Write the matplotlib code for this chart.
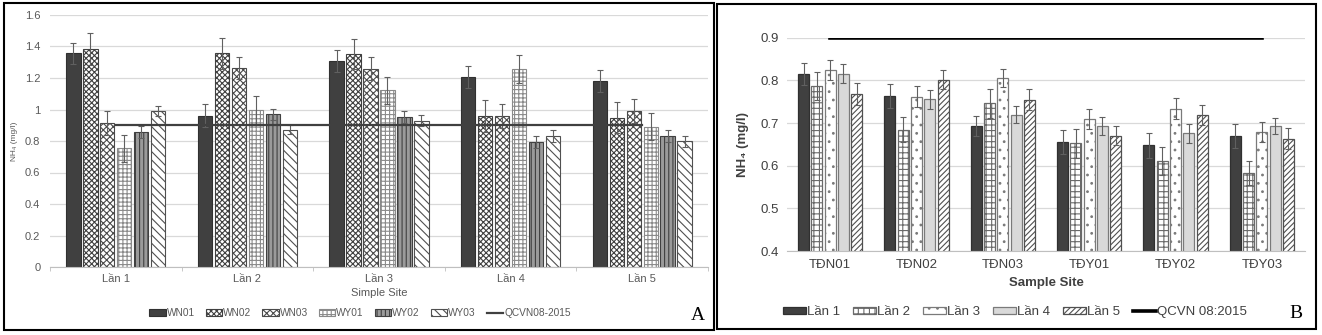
import matplotlib.pyplot as plt
from matplotlib.patches import Rectangle
import numpy as np

plt.rcParams['font.family'] = ['Liberation Sans', 'DejaVu Sans']
plt.rcParams['hatch.linewidth'] = 0.8

# ---- panel A data (NH4 mg/l by sampling round) ----
rounds_a = ['Lần 1', 'Lần 2', 'Lần 3', 'Lần 4', 'Lần 5']
sites_a = ['WN01', 'WN02', 'WN03', 'WY01', 'WY02', 'WY03']
wn01 = [1.357, 0.960, 1.308, 1.206, 1.179]
wn02 = [1.384, 1.357, 1.352, 0.960, 0.947]
wn03 = [0.914, 1.263, 1.259, 0.960, 0.992]
wy01 = [0.753, 0.996, 1.123, 1.259, 0.890]
wy02 = [0.858, 0.969, 0.952, 0.793, 0.831]
wy03 = [0.990, 0.873, 0.928, 0.831, 0.799]
wn01_err = [0.067, 0.072, 0.070, 0.068, 0.070]
wn02_err = [0.100, 0.099, 0.096, 0.102, 0.098]
wn03_err = [0.074, 0.072, 0.074, 0.076, 0.076]
wy01_err = [0.086, 0.089, 0.085, 0.089, 0.085]
wy02_err = [0.036, 0.034, 0.038, 0.036, 0.036]
wy03_err = [0.034, 0.028, 0.034, 0.036, 0.034]
qcvn_a = [0.9, 0.9, 0.9, 0.9, 0.9]

# ---- panel B data (NH4 mg/l by sample site) ----
sites_b = ['TĐN01', 'TĐN02', 'TĐN03', 'TĐY01', 'TĐY02', 'TĐY03']
rounds_b = ['Lần 1', 'Lần 2', 'Lần 3', 'Lần 4', 'Lần 5']
lan1 = [0.814, 0.764, 0.693, 0.655, 0.648, 0.670]
lan2 = [0.786, 0.684, 0.746, 0.652, 0.611, 0.583]
lan3 = [0.824, 0.762, 0.806, 0.709, 0.734, 0.679]
lan4 = [0.816, 0.756, 0.719, 0.693, 0.676, 0.693]
lan5 = [0.768, 0.802, 0.755, 0.670, 0.719, 0.663]
lan1_err = [0.026, 0.028, 0.024, 0.028, 0.029, 0.028]
lan2_err = [0.033, 0.029, 0.034, 0.033, 0.033, 0.029]
lan3_err = [0.024, 0.024, 0.021, 0.024, 0.024, 0.023]
lan4_err = [0.022, 0.022, 0.020, 0.021, 0.022, 0.019]
lan5_err = [0.025, 0.022, 0.024, 0.022, 0.023, 0.025]
qcvn_b = [0.9, 0.9, 0.9, 0.9, 0.9, 0.9]

W, H = 1322, 335
fig = plt.figure(figsize=(W / 100, H / 100), dpi=100)


def px_axes(left, top, right, bottom):
    return fig.add_axes([left / W, 1 - bottom / H, (right - left) / W, (bottom - top) / H])


def style_axes(ax, grid_color='#d9d9d9'):
    for s in ['top', 'right', 'left']:
        ax.spines[s].set_visible(False)
    ax.spines['bottom'].set_color('#bfbfbf')
    ax.yaxis.grid(True, color=grid_color, linewidth=0.9)
    ax.set_axisbelow(True)
    ax.tick_params(axis='y', length=0)
    ax.tick_params(axis='x', which='major', length=0)


def line_last(ax):
    # Excel lists the line series after the bars
    handles, labels = ax.get_legend_handles_labels()
    return handles[1:] + handles[:1], labels[1:] + labels[:1]


err_kw = dict(ecolor='#606060', elinewidth=0.8, capsize=2, capthick=0.8)

# ---------------- panel A ----------------
ax_a = px_axes(50, 15, 708, 267)
style_axes(ax_a)
vals_a = [wn01, wn02, wn03, wy01, wy02, wy03]
errs_a = [wn01_err, wn02_err, wn03_err, wy01_err, wy02_err, wy03_err]
styles_a = [
    dict(color='#404040', edgecolor='#303030', hatch=None),
    dict(color='white', edgecolor='#404040', hatch='xxxxxx'),
    dict(color='white', edgecolor='#4a4a4a', hatch='xxxxx'),
    dict(color='white', edgecolor='#8a8a8a', hatch='++++'),
    dict(color='#9a9a9a', edgecolor='#404040', hatch='||||'),
    dict(color='white', edgecolor='#505050', hatch='\\\\\\\\'),
]
x_a = np.arange(len(rounds_a))
slot_a, width_a = 0.129, 0.109
for j, (name, v, e, st) in enumerate(zip(sites_a, vals_a, errs_a, styles_a)):
    ax_a.bar(x_a + (j - 2.5) * slot_a, v, width_a, yerr=e, label=name,
             linewidth=0.8, error_kw=err_kw, **st)
ax_a.plot(x_a, qcvn_a, color='#404040', linewidth=1.6, label='QCVN08-2015', zorder=5)
ax_a.set_xlim(-0.5, len(rounds_a) - 0.5)
ax_a.set_ylim(0, 1.6)
ax_a.set_yticks(np.arange(0, 1.61, 0.2))
ax_a.set_yticklabels(['0', '0.2', '0.4', '0.6', '0.8', '1', '1.2', '1.4', '1.6'])
ax_a.set_xticks(x_a)
ax_a.set_xticklabels(rounds_a)
ax_a.set_xticks(np.arange(-0.5, len(rounds_a), 1.0), minor=True)
ax_a.tick_params(axis='x', which='minor', length=3, color='#bfbfbf')
ax_a.tick_params(axis='both', labelsize=8, labelcolor='#595959', pad=5)
ax_a.tick_params(axis='y', pad=7)
ax_a.set_xlabel('Simple Site', fontsize=8, color='#595959', labelpad=3)
ax_a.set_ylabel('NH₄ (mg/l)', fontsize=6, color='#595959', labelpad=5)
h, l = line_last(ax_a)
ax_a.legend(h, l, loc='center', bbox_to_anchor=(360 / W, 1 - 313 / H), bbox_transform=fig.transFigure,
            ncol=7, frameon=False, fontsize=7.3, handlelength=1.6, handleheight=0.6,
            handletextpad=0.1, columnspacing=1.1, labelcolor='#595959')

# ---------------- panel B ----------------
ax_b = px_axes(787, 37.7, 1305, 251)
style_axes(ax_b)
vals_b = [lan1, lan2, lan3, lan4, lan5]
errs_b = [lan1_err, lan2_err, lan3_err, lan4_err, lan5_err]
styles_b = [
    dict(color='#404040', edgecolor='#303030', hatch=None),
    dict(color='white', edgecolor='#6a6a6a', hatch='+++'),
    dict(color='white', edgecolor='#7a7a7a', hatch='..'),
    dict(color='#d9d9d9', edgecolor='#7a7a7a', hatch=None),
    dict(color='white', edgecolor='#505050', hatch='//////'),
]
x_b = np.arange(len(sites_b))
slot_b, width_b = 0.154, 0.127
for j, (name, v, e, st) in enumerate(zip(rounds_b, vals_b, errs_b, styles_b)):
    ax_b.bar(x_b + (j - 2) * slot_b, v, width_b, yerr=e, label=name,
             linewidth=0.9, error_kw=err_kw, **st)
ax_b.plot(x_b, qcvn_b, color='black', linewidth=2.6, label='QCVN 08:2015', zorder=5)
ax_b.set_xlim(-0.5, len(sites_b) - 0.5)
ax_b.set_ylim(0.4, 0.9)
ax_b.set_yticks(np.arange(0.4, 0.91, 0.1))
ax_b.yaxis.set_major_formatter(plt.FormatStrFormatter('%.1f'))
ax_b.set_xticks(x_b)
ax_b.set_xticklabels(sites_b)
ax_b.tick_params(axis='both', labelsize=9.5, labelcolor='#404040', pad=6)
ax_b.set_xlabel('Sample Site', fontsize=9.5, fontweight='bold', color='#404040', labelpad=4)
ax_b.set_ylabel('NH₄ (mg/l)', fontsize=9.5, fontweight='bold', color='#404040', labelpad=8)
h, l = line_last(ax_b)
ax_b.legend(h, l, loc='center', bbox_to_anchor=(1015 / W, 1 - 312 / H), bbox_transform=fig.transFigure,
            ncol=6, frameon=False, fontsize=9.5, handlelength=1.7, handleheight=0.5,
            handletextpad=0.1, columnspacing=1.0, labelcolor='#404040')

# panel frames and letters
fig.add_artist(Rectangle((4 / W, 1 - 330 / H), 710 / W, 327 / H, transform=fig.transFigure,
                         fill=False, edgecolor='black', linewidth=1.5))
fig.add_artist(Rectangle((717 / W, 1 - 329 / H), 599 / W, 325 / H, transform=fig.transFigure,
                         fill=False, edgecolor='black', linewidth=1.5))
fig.text(698 / W, 1 - 316 / H, 'A', fontsize=14, family='Liberation Serif', ha='center', va='center')
fig.text(1296 / W, 1 - 313 / H, 'B', fontsize=14, family='Liberation Serif', ha='center', va='center')

fig.savefig('out.png', dpi=100)
